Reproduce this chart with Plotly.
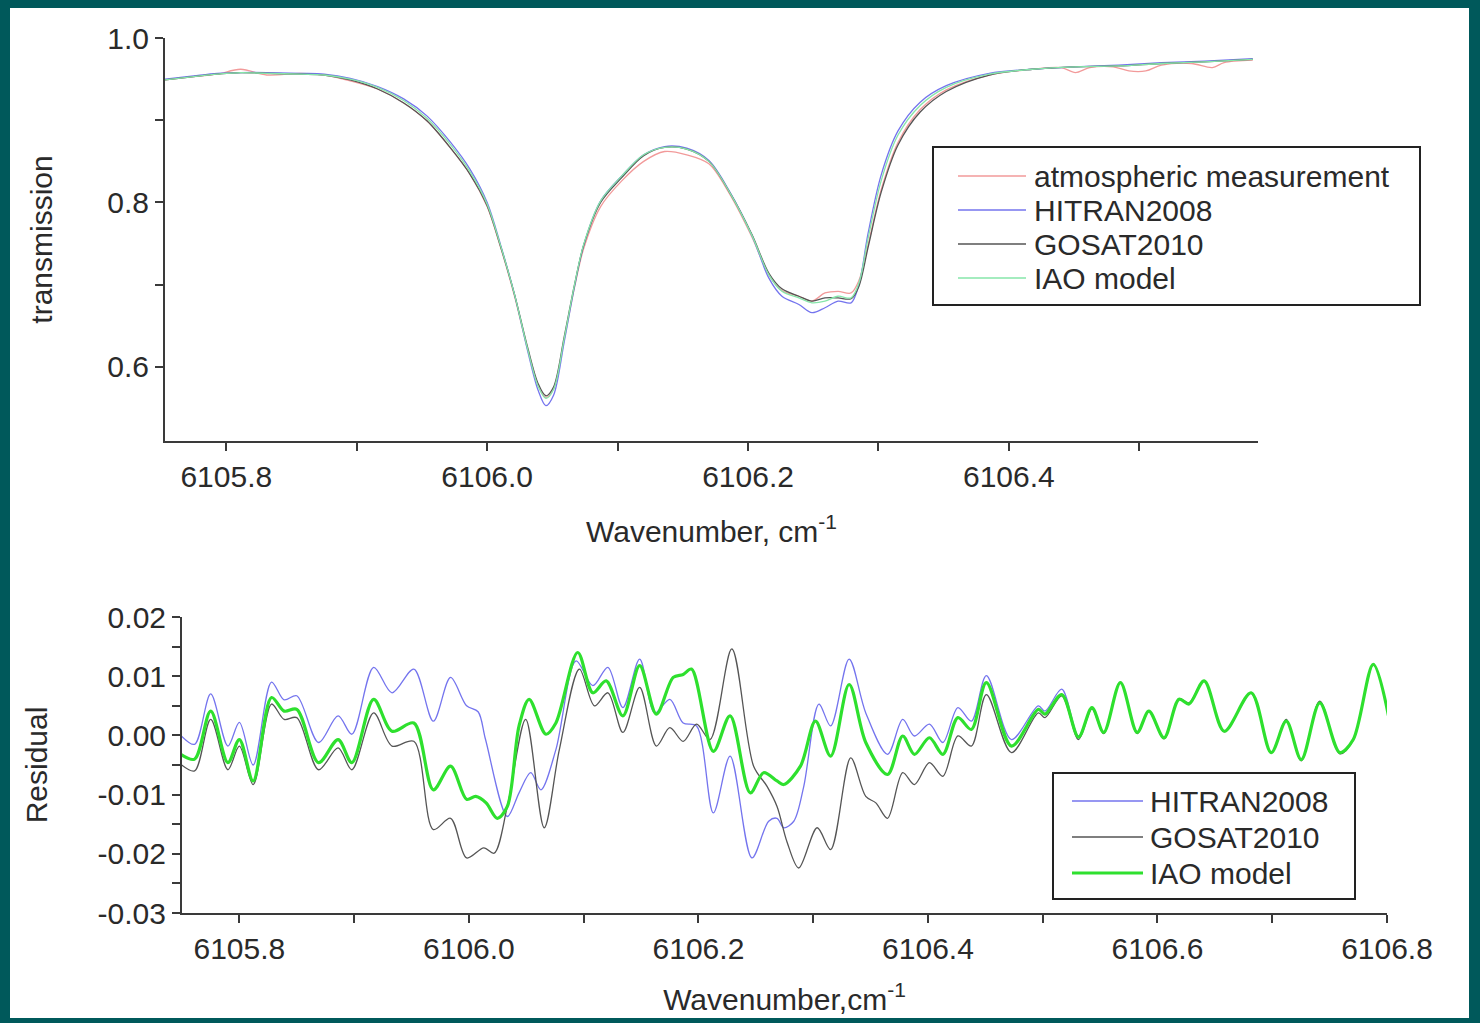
import plotly.graph_objects as go

# ---------------- top panel: transmission ----------------
top_x = [6105.753, 6105.775, 6105.793, 6105.811, 6105.831, 6105.857, 6105.875, 6105.895, 6105.916, 6105.936,
         6105.954, 6105.972, 6105.987, 6106.000, 6106.010, 6106.021, 6106.031, 6106.039, 6106.045, 6106.051,
         6106.059, 6106.067, 6106.074, 6106.087, 6106.103, 6106.120, 6106.136, 6106.153, 6106.170, 6106.186,
         6106.203, 6106.216, 6106.226, 6106.239, 6106.249, 6106.259, 6106.269, 6106.279, 6106.285, 6106.292,
         6106.302, 6106.315, 6106.332, 6106.352, 6106.385, 6106.418, 6106.451, 6106.484, 6106.517, 6106.550,
         6106.587]
top_hitran = [0.950, 0.954, 0.957, 0.958, 0.958, 0.957, 0.956, 0.951, 0.941, 0.926,
              0.905, 0.873, 0.840, 0.800, 0.750, 0.688, 0.620, 0.572, 0.553, 0.566,
              0.630, 0.698, 0.748, 0.802, 0.832, 0.858, 0.868, 0.866, 0.851, 0.813,
              0.760, 0.708, 0.686, 0.676, 0.666, 0.672, 0.680, 0.678, 0.700, 0.762,
              0.833, 0.887, 0.922, 0.942, 0.957, 0.962, 0.965, 0.967, 0.970, 0.972,
              0.975]
top_gosat = [0.949, 0.953, 0.956, 0.958, 0.957, 0.956, 0.955, 0.949, 0.938, 0.921,
             0.899, 0.866, 0.834, 0.796, 0.748, 0.688, 0.624, 0.580, 0.565, 0.576,
             0.636, 0.700, 0.748, 0.800, 0.830, 0.857, 0.867, 0.865, 0.850, 0.812,
             0.761, 0.714, 0.695, 0.686, 0.680, 0.684, 0.684, 0.683, 0.698, 0.745,
             0.812, 0.870, 0.910, 0.935, 0.955, 0.962, 0.965, 0.966, 0.969, 0.971,
             0.974]
top_iao = [0.949, 0.953, 0.956, 0.958, 0.957, 0.956, 0.955, 0.950, 0.940, 0.924,
           0.902, 0.870, 0.837, 0.798, 0.749, 0.688, 0.622, 0.577, 0.562, 0.573,
           0.634, 0.700, 0.749, 0.802, 0.832, 0.858, 0.867, 0.865, 0.850, 0.812,
           0.760, 0.712, 0.692, 0.684, 0.678, 0.680, 0.686, 0.684, 0.702, 0.756,
           0.826, 0.882, 0.918, 0.940, 0.956, 0.962, 0.965, 0.966, 0.969, 0.971,
           0.974]
meas_x = [6105.753, 6105.775, 6105.793, 6105.811, 6105.831, 6105.857, 6105.875, 6105.895, 6105.916, 6105.936,
          6105.954, 6105.972, 6105.987, 6106.000, 6106.010, 6106.021, 6106.031, 6106.039, 6106.045, 6106.051,
          6106.059, 6106.067, 6106.074, 6106.087, 6106.103, 6106.120, 6106.136, 6106.153, 6106.170, 6106.186,
          6106.203, 6106.216, 6106.226, 6106.239, 6106.249, 6106.259, 6106.269, 6106.279, 6106.285, 6106.292,
          6106.302, 6106.315, 6106.332, 6106.352, 6106.385, 6106.418, 6106.440, 6106.451, 6106.462, 6106.480,
          6106.492, 6106.505, 6106.517, 6106.540, 6106.556, 6106.565, 6106.587]
meas_y = [0.949, 0.953, 0.956, 0.962, 0.955, 0.957, 0.955, 0.948, 0.938, 0.921,
          0.899, 0.866, 0.834, 0.795, 0.747, 0.686, 0.622, 0.578, 0.563, 0.574,
          0.633, 0.697, 0.744, 0.795, 0.826, 0.850, 0.862, 0.858, 0.847, 0.810,
          0.758, 0.712, 0.693, 0.686, 0.680, 0.690, 0.692, 0.690, 0.705, 0.748,
          0.815, 0.873, 0.913, 0.937, 0.955, 0.962, 0.964, 0.958, 0.964, 0.965,
          0.960, 0.960, 0.967, 0.969, 0.964, 0.970, 0.973]

# ---------------- bottom panel: residuals ----------------
hit_x = [6105.749, 6105.761, 6105.775, 6105.790, 6105.800, 6105.812, 6105.828, 6105.839, 6105.850, 6105.869,
         6105.886, 6105.898, 6105.917, 6105.933, 6105.952, 6105.969, 6105.984, 6105.998, 6106.008, 6106.0145,
         6106.0335, 6106.0437, 6106.0539, 6106.0627, 6106.0758, 6106.0934, 6106.1080, 6106.1211, 6106.1342, 6106.1488,
         6106.1619, 6106.1751, 6106.1867, 6106.1984, 6106.2130, 6106.2276, 6106.2466, 6106.2612, 6106.2685, 6106.2743,
         6106.2831, 6106.2918, 6106.3050, 6106.3152, 6106.3313, 6106.3458, 6106.3648, 6106.3780, 6106.3882, 6106.4013,
         6106.4130, 6106.4261, 6106.4378, 6106.4509, 6106.4728, 6106.4962, 6106.5020, 6106.5166, 6106.5312, 6106.5429,
         6106.5531, 6106.5677, 6106.5823, 6106.5925, 6106.6057, 6106.6188, 6106.6275, 6106.6407, 6106.6582, 6106.6816,
         6106.6991, 6106.7122, 6106.7253, 6106.7414, 6106.7589, 6106.7706, 6106.7881, 6106.8041]
hit_y = [0.0000, -0.0015, 0.0070, -0.0018, 0.0022, -0.0050, 0.0090, 0.0060, 0.0067, -0.0012,
         0.0033, 0.0002, 0.0115, 0.0072, 0.0112, 0.0024, 0.0098, 0.0050, 0.0040, -0.0007,
         -0.0137, -0.0097, -0.0063, -0.0092, -0.0024, 0.0126, 0.0084, 0.0115, 0.0047, 0.0129,
         0.0038, 0.0061, 0.0021, 0.0016, -0.0131, -0.0035, -0.0207, -0.0145, -0.0140, -0.0156,
         -0.0145, -0.0086, 0.0053, 0.0016, 0.0129, 0.0038, -0.0032, 0.0027, -0.0001, 0.0019,
         -0.0012, 0.0047, 0.0024, 0.0101, -0.0007, 0.0050, 0.0041, 0.0078, -0.0001, 0.0047,
         0.0005, 0.0089, 0.0005, 0.0041, -0.0004, 0.0061, 0.0053, 0.0092, 0.0007, 0.0072,
         -0.0029, 0.0026, -0.0041, 0.0057, -0.0029, -0.0007, 0.0120, 0.0005]

gos_x = [6105.749, 6105.761, 6105.775, 6105.790, 6105.800, 6105.812, 6105.828, 6105.839, 6105.850, 6105.869,
         6105.886, 6105.898, 6105.917, 6105.933, 6105.952, 6105.969, 6105.984, 6105.998, 6106.013, 6106.022,
         6106.0335, 6106.0495, 6106.0656, 6106.0788, 6106.0963, 6106.1094, 6106.1211, 6106.1342, 6106.1488, 6106.1634,
         6106.1751, 6106.1867, 6106.1984, 6106.2101, 6106.2291, 6106.2481, 6106.2598, 6106.2685, 6106.2772, 6106.2874,
         6106.3035, 6106.3152, 6106.3327, 6106.3458, 6106.3546, 6106.3648, 6106.3780, 6106.3882, 6106.4013, 6106.4130,
         6106.4261, 6106.4378, 6106.4509, 6106.4728, 6106.4962, 6106.5020, 6106.5166, 6106.5312, 6106.5429, 6106.5531,
         6106.5677, 6106.5823, 6106.5925, 6106.6057, 6106.6188, 6106.6275, 6106.6407, 6106.6582, 6106.6816, 6106.6991,
         6106.7122, 6106.7253, 6106.7414, 6106.7589, 6106.7706, 6106.7881, 6106.8041]
gos_y = [-0.0049, -0.0060, 0.0027, -0.0058, -0.0018, -0.0083, 0.0053, 0.0027, 0.0030, -0.0058,
         -0.0021, -0.0058, 0.0038, -0.0018, -0.0010, -0.0159, -0.0140, -0.0207, -0.0190, -0.0199,
         -0.0120, 0.0027, -0.0156, -0.0024, 0.0112, 0.0050, 0.0072, 0.0005, 0.0081, -0.0018,
         0.0013, -0.0010, 0.0019, -0.0007, 0.0146, -0.0052, -0.0086, -0.0120, -0.0180, -0.0224,
         -0.0156, -0.0193, -0.0038, -0.0103, -0.0114, -0.0140, -0.0063, -0.0083, -0.0046, -0.0069,
         -0.0001, -0.0018, 0.0069, -0.0029, 0.0038, 0.0030, 0.0067, -0.0007, 0.0045, 0.0003,
         0.0090, 0.0003, 0.0040, -0.0006, 0.0062, 0.0055, 0.0092, 0.0006, 0.0071, -0.0030,
         0.0027, -0.0043, 0.0058, -0.0031, -0.0008, 0.0119, 0.0004]

iao_x = [6105.749, 6105.761, 6105.775, 6105.790, 6105.800, 6105.812, 6105.828, 6105.839, 6105.850, 6105.869,
         6105.886, 6105.898, 6105.917, 6105.933, 6105.952, 6105.969, 6105.984, 6105.998, 6106.006, 6106.015,
         6106.0247, 6106.0335, 6106.0437, 6106.0525, 6106.0671, 6106.0758, 6106.0948, 6106.1080, 6106.1196, 6106.1342,
         6106.1488, 6106.1634, 6106.1780, 6106.1867, 6106.1940, 6106.2130, 6106.2276, 6106.2452, 6106.2568, 6106.2685,
         6106.2743, 6106.2889, 6106.3020, 6106.3152, 6106.3313, 6106.3458, 6106.3648, 6106.3780, 6106.3882, 6106.4013,
         6106.4130, 6106.4261, 6106.4378, 6106.4509, 6106.4728, 6106.4962, 6106.5020, 6106.5166, 6106.5312, 6106.5429,
         6106.5531, 6106.5677, 6106.5823, 6106.5925, 6106.6057, 6106.6188, 6106.6275, 6106.6407, 6106.6582, 6106.6816,
         6106.6991, 6106.7122, 6106.7253, 6106.7414, 6106.7589, 6106.7706, 6106.7881, 6106.8041]
iao_y = [-0.0032, -0.0040, 0.0041, -0.0046, -0.0007, -0.0077, 0.0064, 0.0041, 0.0044, -0.0046,
         -0.0007, -0.0046, 0.0061, 0.0007, 0.0021, -0.0092, -0.0052, -0.0108, -0.0103, -0.0114,
         -0.0140, -0.0120, 0.0016, 0.0061, 0.0002, 0.0021, 0.0140, 0.0072, 0.0092, 0.0033,
         0.0118, 0.0036, 0.0098, 0.0103, 0.0112, -0.0027, 0.0033, -0.0097, -0.0063, -0.0077,
         -0.0083, -0.0052, 0.0024, -0.0035, 0.0086, -0.0012, -0.0066, -0.0001, -0.0032, -0.0004,
         -0.0032, 0.0030, 0.0010, 0.0089, -0.0018, 0.0044, 0.0036, 0.0069, -0.0003, 0.0047,
         0.0005, 0.0089, 0.0005, 0.0041, -0.0004, 0.0061, 0.0053, 0.0092, 0.0007, 0.0072,
         -0.0029, 0.0024, -0.0041, 0.0055, -0.0029, -0.0007, 0.0120, 0.0005]

top_xticks = [6105.8, 6106.0, 6106.2, 6106.4]
top_xlabels = ["6105.8", "6106.0", "6106.2", "6106.4"]
top_yticks = [0.6, 0.8, 1.0]
top_ylabels = ["0.6", "0.8", "1.0"]
bot_xticks = [6105.8, 6106.0, 6106.2, 6106.4, 6106.6, 6106.8]
bot_xlabels = ["6105.8", "6106.0", "6106.2", "6106.4", "6106.6", "6106.8"]
bot_yticks = [0.02, 0.01, 0.0, -0.01, -0.02, -0.03]
bot_ylabels = ["0.02", "0.01", "0.00", "-0.01", "-0.02", "-0.03"]

top_names = ["atmospheric measurement", "HITRAN2008", "GOSAT2010", "IAO model"]
bot_names = ["HITRAN2008", "GOSAT2010", "IAO model"]

W, H = 1480, 1023
FONT = "Liberation Sans, Arial, sans-serif"
TXT = "#2a2a2a"
AX = "#3a3a3a"
C_MEAS, C_HIT, C_GOS, C_IAO_T, C_IAO_B = "#f29a9a", "#7474ee", "#555555", "#86e6aa", "#2ee02e"


def px(v):
    return v / W


def py(v):
    return 1 - v / H


fig = go.Figure()
lk = dict(shape="spline", smoothing=0.9)
fig.add_trace(go.Scatter(x=meas_x, y=meas_y, mode="lines", name=top_names[0],
                         line=dict(color=C_MEAS, width=1.3, **lk), xaxis="x", yaxis="y"))
fig.add_trace(go.Scatter(x=top_x, y=top_hitran, mode="lines", name=top_names[1],
                         line=dict(color=C_HIT, width=1.3, **lk), xaxis="x", yaxis="y"))
fig.add_trace(go.Scatter(x=top_x, y=top_gosat, mode="lines", name=top_names[2],
                         line=dict(color=C_GOS, width=1.3, **lk), xaxis="x", yaxis="y"))
fig.add_trace(go.Scatter(x=top_x, y=top_iao, mode="lines", name=top_names[3],
                         line=dict(color=C_IAO_T, width=1.3, **lk), xaxis="x", yaxis="y"))
fig.add_trace(go.Scatter(x=hit_x, y=hit_y, mode="lines", name=bot_names[0],
                         line=dict(color=C_HIT, width=1.3, **lk), xaxis="x2", yaxis="y2"))
fig.add_trace(go.Scatter(x=gos_x, y=gos_y, mode="lines", name=bot_names[1],
                         line=dict(color=C_GOS, width=1.3, **lk), xaxis="x2", yaxis="y2"))
fig.add_trace(go.Scatter(x=iao_x, y=iao_y, mode="lines", name=bot_names[2],
                         line=dict(color=C_IAO_B, width=3.2, **lk), xaxis="x2", yaxis="y2"))

axis_common = dict(showline=True, linecolor=AX, linewidth=2, ticks="outside", ticklen=8, tickwidth=1.5,
                   tickcolor=AX, showgrid=False, zeroline=False, automargin=False,
                   tickfont=dict(family=FONT, size=30, color=TXT),
                   minor=dict(ticks="outside", ticklen=8, tickwidth=1.5, tickcolor=AX, showgrid=False))
title_font = dict(family=FONT, size=30, color=TXT)

# legend boxes drawn as shapes + text annotations (positions in pixels)
shapes = [dict(type="rect", xref="paper", yref="paper", x0=px(10), x1=px(1469), y0=py(1018), y1=py(8),
               fillcolor="white", line=dict(width=0), layer="below")]
annotations = []


def add_legend(box, line_x0, line_x1, text_x, rows, names, colors, widths):
    x0, x1, y0, y1 = box
    shapes.append(dict(type="rect", xref="paper", yref="paper", x0=px(x0), x1=px(x1), y0=py(y1), y1=py(y0),
                       fillcolor="white", line=dict(color="#222", width=2), layer="above"))
    for r, n, c, w in zip(rows, names, colors, widths):
        shapes.append(dict(type="line", xref="paper", yref="paper", x0=px(line_x0), x1=px(line_x1),
                           y0=py(r), y1=py(r), line=dict(color=c, width=w), layer="above"))
        annotations.append(dict(text=n, xref="paper", yref="paper", x=px(text_x), y=py(r),
                                xanchor="left", yanchor="middle", showarrow=False,
                                font=dict(family=FONT, size=30, color=TXT)))


add_legend((933, 1420, 147, 305), 958, 1026, 1032, [176, 210, 244, 278], top_names,
           [C_MEAS, C_HIT, C_GOS, C_IAO_T], [1.3, 1.3, 1.3, 1.3])
add_legend((1053, 1355, 773, 899), 1072, 1143, 1148, [801, 837, 873], bot_names,
           [C_HIT, C_GOS, C_IAO_B], [1.3, 1.3, 3.2])

fig.update_layout(
    width=W, height=H,
    margin=dict(l=0, r=0, t=0, b=0),
    paper_bgcolor="#00595b",
    plot_bgcolor="rgba(0,0,0,0)",
    font=dict(family=FONT, color=TXT),
    showlegend=False,
    xaxis=dict(domain=[px(165), px(1258)], range=[6105.753, 6106.591], anchor="y",
               tickvals=top_xticks, ticktext=top_xlabels, minor=dict(dtick=0.1, tick0=6105.8),
               title=dict(text="Wavenumber, cm<sup>-1</sup>", font=title_font, standoff=29)),
    yaxis=dict(domain=[py(441), py(38)], range=[0.51, 1.0], anchor="x",
               tickvals=top_yticks, ticktext=top_ylabels, minor=dict(dtick=0.1, tick0=0.5),
               title=dict(text="transmission", font=title_font, standoff=46)),
    xaxis2=dict(domain=[px(182), px(1387)], range=[6105.75, 6106.8], anchor="y2",
                tickvals=bot_xticks, ticktext=bot_xlabels, minor=dict(dtick=0.1, tick0=6105.8),
                title=dict(text="Wavenumber,cm<sup>-1</sup>", font=title_font, standoff=25)),
    yaxis2=dict(domain=[py(913), py(617)], range=[-0.03, 0.02], anchor="x2",
                tickvals=bot_yticks, ticktext=bot_ylabels, minor=dict(dtick=0.005, tick0=0),
                title=dict(text="Residual", font=title_font, standoff=41)),
    shapes=shapes,
    annotations=annotations,
)
for ax in ["xaxis", "yaxis", "xaxis2", "yaxis2"]:
    fig.layout[ax].update(axis_common)

fig.write_html("out.html")
